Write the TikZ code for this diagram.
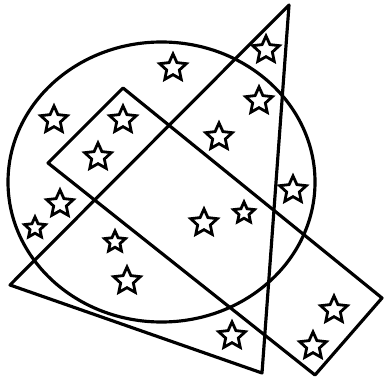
\documentclass[tikz,border=0pt]{standalone}
\usepackage{tikz}
\usetikzlibrary{shapes.geometric}

\tikzset{
  starmark/.style={draw=black, line width=1.6pt, star, star points=5, star point ratio=2.1, minimum size=0.56cm, inner sep=0pt},
  smallstar/.style={starmark, minimum size=0.44cm},
  outline/.style={black, line width=1.8pt, line join=round}
}

\begin{document}
\begin{tikzpicture}[x=0.02cm, y=-0.02cm]
\useasboundingbox (0,0) rectangle (384,381);

% the three figures
\draw[outline] (161.5,182) ellipse (153.5 and 140);
\draw[outline] (289,5) -- (10,285) -- (262,373) -- cycle;
\draw[outline] (123,88) -- (382,298) -- (315,375) -- (48,163) -- cycle;

% the stars
\node[starmark] (s1) at (266,50) {};
\node[starmark] (s2) at (173,68) {};
\node[starmark] (s3) at (259,101) {};
\node[starmark] (s4) at (54,120) {};
\node[starmark] (s5) at (123,120) {};
\node[starmark] (s6) at (219,137) {};
\node[starmark] (s7) at (98,157) {};
\node[starmark] (s8) at (293,190) {};
\node[starmark] (s9) at (60,204) {};
\node[smallstar] (s10) at (35,228) {};
\node[smallstar] (s11) at (244,213) {};
\node[starmark] (s12) at (204,223) {};
\node[smallstar] (s13) at (115,242) {};
\node[starmark] (s14) at (127,281) {};
\node[starmark] (s15) at (232,336) {};
\node[starmark] (s16) at (334,310) {};
\node[starmark] (s17) at (313,346) {};

\end{tikzpicture}
\end{document}
